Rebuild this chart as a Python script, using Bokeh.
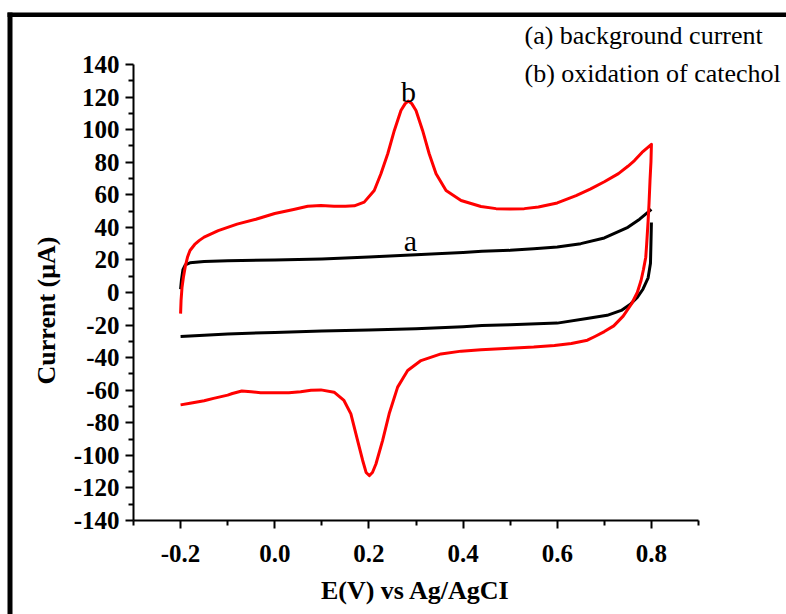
import math
from bokeh.plotting import figure
from bokeh.models import FixedTicker, Label, BoxAnnotation
from bokeh.embed import file_html
from bokeh.resources import INLINE

# background current (a): anodic (upper) branch and return (lower) branch
a_fwd_E = [-0.200, -0.198, -0.195, -0.19, -0.18, -0.15, -0.1, 0.0, 0.1, 0.2, 0.3, 0.4, 0.44, 0.5,
           0.55, 0.6, 0.65, 0.7, 0.75, 0.775, 0.8]
a_fwd_I = [2, 8, 14, 17, 18.2, 19, 19.5, 20, 20.6, 21.8, 23.2, 24.6, 25.4, 25.9,
           26.8, 28, 30, 33.5, 40, 45, 51]
a_rev_E = [0.8, 0.799, 0.798, 0.793, 0.782, 0.77, 0.756, 0.736, 0.706, 0.663, 0.6, 0.5,
           0.44, 0.4, 0.3, 0.2, 0.1, 0.0, -0.1, -0.15, -0.2]
a_rev_I = [43, 30, 18, 9, 2, -3, -7, -11, -14, -16, -18.8, -19.8,
           -20.3, -21, -22.2, -23, -23.7, -24.5, -25.5, -26.3, -27]

# oxidation of catechol (b): full cycle
b_E = [-0.2, -0.199, -0.197, -0.194, -0.19, -0.185, -0.18, -0.17, -0.16, -0.15, -0.12, -0.08,
       -0.04, 0.0, 0.04, 0.07, 0.098, 0.126, 0.15, 0.169, 0.19, 0.2113, 0.2255, 0.24, 0.254,
       0.268, 0.277, 0.2836, 0.291, 0.3, 0.314, 0.328, 0.3426, 0.3638, 0.3957, 0.438, 0.47,
       0.5, 0.53, 0.56, 0.6, 0.64, 0.67, 0.7, 0.73, 0.75, 0.764, 0.78, 0.8,
       0.799, 0.797, 0.795, 0.793, 0.79, 0.788, 0.783, 0.778, 0.77, 0.758, 0.74, 0.72, 0.7,
       0.68, 0.664, 0.63, 0.594, 0.55, 0.5, 0.438, 0.396, 0.353, 0.3106, 0.2823, 0.2717,
       0.261, 0.243, 0.229, 0.2149, 0.2075, 0.2007, 0.194, 0.1866, 0.176, 0.1617, 0.147,
       0.126, 0.098, 0.077, 0.055, 0.03, 0.0, -0.03, -0.05, -0.07, -0.09,
       -0.1, -0.13, -0.15, -0.18, -0.2]
b_I = [-13, -5, 3, 9.4, 16, 22, 25.8, 29.5, 32, 34, 38, 42,
       45, 48.5, 51, 53, 53.4, 53, 53, 53.2, 55.5, 62.6, 72.9, 85.2, 99.5,
       111.8, 116, 117.5, 116, 111.8, 99.5, 85.2, 72.9, 62.6, 56.5, 52.8, 51.5,
       51.2, 51.5, 52.5, 55, 59.5, 63.5, 68, 73, 77.5, 81, 86, 91,
       80, 68.7, 55, 44, 30, 21.7, 14, 7.4, 0, -6.9, -14.5, -20.5, -24,
       -27, -29.3, -31.3, -32.5, -33.5, -34.2, -35.2, -36, -37.7, -41.8, -47.9, -53,
       -58.1, -74.5, -90.9, -105.3, -110.5, -112.4, -110.5, -103, -90.9, -74.5, -66.3,
       -61.2, -59.8, -60, -61, -61.5, -61.5, -61.5, -61, -60.5, -62,
       -63, -65, -66.5, -68, -69]

x_ticks = [-0.2, 0.0, 0.2, 0.4, 0.6, 0.8]
x_minor = [-0.3, -0.1, 0.1, 0.3, 0.5, 0.7, 0.9]
x_labels = ["-0.2", "0.0", "0.2", "0.4", "0.6", "0.8"]
y_ticks = list(range(-140, 141, 20))
y_minor = list(range(-130, 140, 20))
x_lim = (-0.3, 0.9)
y_lim = (-140, 140)

x_title = "E(V) vs Ag/AgCI"
y_title = "Current (\u03bcA)"
legend_lines = ["(a) background current", "(b) oxidation of catechol"]

SERIF = "Liberation Serif"
W, H = 786, 614
# pixel placement of the axes box inside the page
AX_L, AX_R, AX_T, AX_B = 133, 698, 64, 520
sx = (x_lim[1] - x_lim[0]) / (AX_R - AX_L)
sy = (y_lim[1] - y_lim[0]) / (AX_B - AX_T)


def dx(px):
    return x_lim[0] + (px - AX_L) * sx


def dy(py):
    return y_lim[0] + (AX_B - py) * sy


p = figure(width=W, height=H, x_range=(dx(0), dx(W)), y_range=(dy(H), dy(0)),
           output_backend="svg", toolbar_location=None,
           min_border_left=0, min_border_right=0, min_border_top=0, min_border_bottom=0)
p.grid.visible = False
p.outline_line_color = None
p.background_fill_color = "white"
p.border_fill_color = "white"
p.title.visible = False

p.line(a_fwd_E, a_fwd_I, line_color="black", line_width=3, line_join="round")
p.line(a_rev_E, a_rev_I, line_color="black", line_width=3, line_join="round")
p.line(b_E, b_I, line_color="#ff0000", line_width=3, line_join="round")

for ax in (p.xaxis[0], p.yaxis[0]):
    ax.axis_line_width = 2
    ax.axis_line_color = "black"
    ax.major_tick_line_width = 2
    ax.minor_tick_line_width = 2
    ax.major_tick_in = 0
    ax.major_tick_out = 8
    ax.minor_tick_in = 0
    ax.minor_tick_out = 5
    ax.major_label_text_font = SERIF
    ax.major_label_text_font_style = "bold"
    ax.major_label_text_font_size = "25px"
    ax.major_label_text_color = "black"

p.xaxis.fixed_location = y_lim[0]
p.xaxis.bounds = x_lim
p.xaxis.ticker = FixedTicker(ticks=x_ticks, minor_ticks=x_minor)
p.xaxis.major_label_overrides = {v: s for v, s in zip(x_ticks, x_labels)}
p.xaxis.major_label_standoff = 16

p.yaxis.fixed_location = x_lim[0]
p.yaxis.bounds = y_lim
p.yaxis.ticker = FixedTicker(ticks=y_ticks, minor_ticks=y_minor)
p.yaxis.major_label_overrides = {v: str(v) for v in y_ticks}
p.yaxis.major_label_standoff = 6

# axis titles
p.add_layout(Label(x=dx(415), y=dy(590), text=x_title, text_font=SERIF, text_font_style="bold",
                   text_font_size="26px", text_align="center", text_baseline="alphabetic",
                   text_color="black"))
p.add_layout(Label(x=dx(46), y=dy(310), text=y_title, text_font=SERIF, text_font_style="bold",
                   text_font_size="26px", text_align="center", text_baseline="alphabetic",
                   angle=math.pi / 2, text_color="black"))

# curve labels
p.add_layout(Label(x=dx(408), y=dy(91), text="b", text_font=SERIF, text_font_size="30px",
                   text_align="center", text_baseline="alphabetic", text_color="black"))
p.add_layout(Label(x=dx(410), y=dy(240), text="a", text_font=SERIF, text_font_size="30px",
                   text_align="center", text_baseline="alphabetic", text_color="black"))

# legend text
for txt, base in zip(legend_lines, (35, 73)):
    p.add_layout(Label(x=dx(524), y=dy(base), text=txt, text_font=SERIF,
                       text_font_size="26px", text_align="left", text_baseline="alphabetic",
                       text_color="black"))

# outer frame lines (top and left)
p.add_layout(BoxAnnotation(left=dx(7), right=dx(W), top=dy(12), bottom=dy(16.5),
                           fill_color="black", fill_alpha=1, line_color=None))
p.add_layout(BoxAnnotation(left=dx(7), right=dx(12), top=dy(12), bottom=dy(H),
                           fill_color="black", fill_alpha=1, line_color=None))

open("out.html", "w").write(file_html(p, INLINE))
